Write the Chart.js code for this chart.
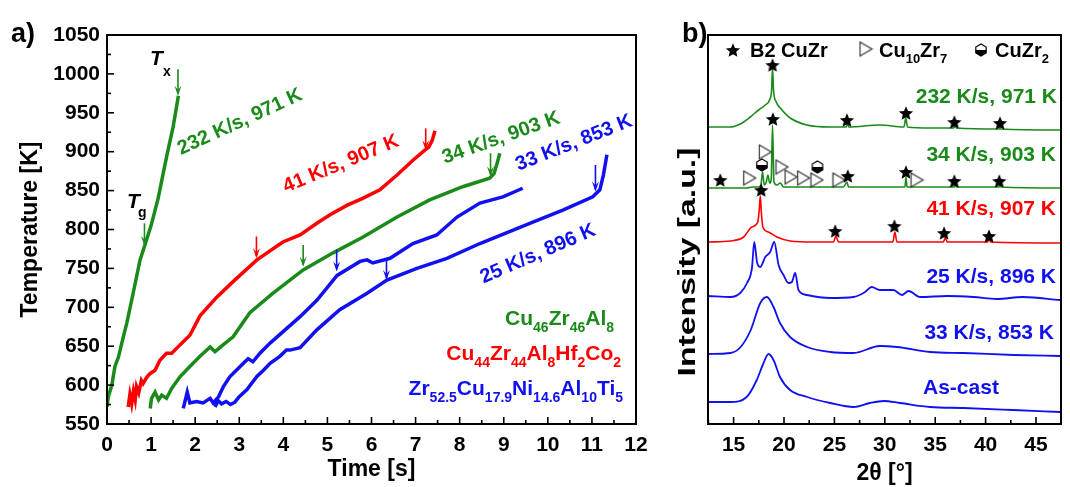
<!DOCTYPE html>
<html><head><meta charset="utf-8">
<script src="https://cdn.jsdelivr.net/npm/chart.js@4.4.0/dist/chart.umd.min.js"></script>
<style>
html,body{margin:0;padding:0;background:#fff;}
#wrap{position:relative;width:1070px;height:487px;overflow:hidden;background:#fff;}
#ca{position:absolute;left:0;top:0;}
#cb{position:absolute;left:660px;top:0;}
</style></head><body>
<div id="wrap"><canvas id="ca" width="660" height="487"></canvas><canvas id="cb" width="410" height="487"></canvas></div>
<script>
// ---------- Panel a data: time [s] vs temperature [K] ----------
const timeTicks = [0,1,2,3,4,5,6,7,8,9,10,11,12];
const tempTicks = [550,600,650,700,750,800,850,900,950,1000,1050];

const t232 = [0,0.03,0.11,0.18,0.26,0.37,0.45,0.6,0.75,0.86,1.0,1.16,1.35,1.5,1.62];
const T232 = [572,585,600,624,636,662,680,720,761,780,805,840,893,932,972];

const t41 = [0.48,0.52,0.56,0.6,0.64,0.67,0.72,0.78,0.82,0.9,0.98,1.09,1.2,1.35,1.47,1.66,1.88,2.11,2.49,2.86,3.4,3.99,4.38,4.76,5.06,5.44,5.8,6.19,6.58,6.94,7.21,7.3,7.38,7.44];
const T41 = [572,588,576,592,581,598,590,606,602,610,615,619,632,641,641,652,664,689,713,733,761,784,793,808,819,831,840,851,870,889,902,906,915,927];

const t34 = [0.98,1.01,1.09,1.17,1.24,1.35,1.47,1.66,1.88,2.11,2.34,2.45,2.64,2.86,3.24,3.76,4.45,5.13,5.8,6.58,7.32,8.07,8.68,8.78,8.85,8.91];
const T34 = [570,583,591,581,587,583,596,611,624,637,649,643,652,662,693,718,748,770,790,816,838,855,866,872,885,898];

const t33 = [1.73,1.82,1.88,2.03,2.18,2.34,2.41,2.53,2.64,2.79,3.02,3.2,3.31,3.47,3.7,4.38,4.76,5.22,5.74,5.9,6.03,6.42,6.94,7.48,7.94,8.46,8.98,9.43];
const T33 = [570,591,577,579,577,583,577,585,598,611,624,634,630,641,654,688,709,741,759,761,757,763,782,793,816,834,842,853];

const t25 = [2.45,2.52,2.6,2.7,2.8,2.9,3.0,3.17,3.4,3.55,3.7,3.92,4.07,4.15,4.38,4.76,5.28,5.9,6.35,7.03,7.71,8.46,9.59,10.34,11.02,11.18,11.26,11.34];
const T25 = [572,580,576,579,575,578,585,594,611,619,628,637,645,645,648,671,697,718,735,750,763,782,808,825,842,851,870,896];

// arrows marking Tg / Tx : time, start temperature, tip temperature
const arrowT = [1.61,0.85,3.39,4.45,5.21,6.34,7.23,8.70,11.08];
const arrowFrom = [1006,808,791,780,774,761,930,898,883];
const arrowTo = [972,779,763,752,746,735,902,868,849];
const arrowCol = ['g','g','r','g','b','b','r','g','b'];

// ---------- Panel b data: 2theta [deg] vs intensity [a.u.] ----------
const twoThetaTicks = [15,20,25,30,35,40,45];

const xAsCast = [12.5,14.7,16.3,17.3,17.97,18.46,18.96,19.6,20.6,22.3,24.6,26.9,28.5,29.9,31.5,34.5,37.8,42.75,47.4];
const yAsCast = [22,22,27,44,61,70,64,47,34,27,21,17,21,23,21,17,16,14,12];

const x33 = [12.5,14.7,15.7,16.7,17.65,18.3,18.96,19.6,20.6,22.3,24.6,26.9,29.5,31.2,34.5,37.8,42.75,47.4];
const y33 = [70,71,77,94,121,127,117,101,87,77,72,71,78,77,72,71,69,68];

const x25 = [12.5,14.7,15.66,16.33,16.82,17.05,17.32,17.64,18.14,18.63,19.03,19.46,19.95,20.45,20.78,21.11,21.44,22.27,24.6,26.9,28.05,28.7,29.5,30.85,31.7,32.35,33.5,36.2,38.8,41.1,43.7,47.4];
const y25 = [128,127,131,141,156,182,162,157,167,172,182,159,149,141,142,151,134,129,126,127,132,137,134,134,129,133,127,128,127,125,127,124];

const x41 = [12.5,14.7,16.0,16.8,17.4,17.55,17.65,17.75,17.9,18.46,19.3,20.6,22.9,24.9,25.15,25.4,28.2,30.8,31.0,31.2,35.8,36.0,36.2,40.2,40.35,40.5,47.4];
const y41 = [182,183,187,197,202,215,228,212,197,192,187,183,182,182,188,182,182,182,192,182,182,186,182,182,185,182,181];

const x34 = [12.5,16.33,16.82,17.48,17.71,17.87,18.04,18.24,18.41,18.57,18.73,18.86,19.0,19.3,19.63,19.95,21.94,25.9,26.24,26.4,32.0,32.1,32.2,36.9,37.0,37.1,41.35,41.43,41.5,47.4];
const y34 = [236,236,237,237,239,252,239,242,249,241,244,299,242,239,241,237,237,237,242,237,237,247,237,237,240,237,237,240,237,236];

const x232 = [12.5,14.67,15.66,16.65,17.48,18.14,18.57,18.77,18.86,18.96,19.23,19.63,20.62,22.27,24.58,26.17,26.3,26.43,29.54,31.9,32.08,32.25,34.5,36.85,36.97,37.1,41.35,41.43,41.5,47.4];
const y232 = [297,297,300,307,314,319,324,334,356,334,322,316,306,299,297,297,301,297,299,297,306,297,296,296,299,296,295,297,295,294];

// phase markers
const starX = [18.86,26.24,32.1,36.9,41.43, 13.68,18.9,26.33,32.1,36.9,41.36, 17.74,25.08,30.95,35.88,40.34];
const starY = [359,304,311,302,301, 244,305,248,252,243,243, 234,193,198,191,188];
const triX = [16.6,18.14,19.8,20.7,21.95,23.27,25.45,33.2];
const triY = [246,272,257,247,246,244,244,244];
const cuzr2X = [17.81,23.32];
const cuzr2Y = [259,257];

// ---------- styling ----------
const FONT = "'Liberation Sans', Arial, Helvetica, sans-serif";
const GREEN = '#1a8a1a', RED = '#ff0000', BLUE = '#1010f0';
const COL = {g:GREEN, r:RED, b:BLUE};
const pts = (xs, ys) => xs.map((v,i)=>({x:v, y:ys[i]}));

function makeStar(size){
  const c=document.createElement('canvas'); c.width=size; c.height=size;
  const g=c.getContext('2d'); g.fillStyle='#000'; g.beginPath();
  const R=size/2-0.5, r=R*0.45, cx=size/2, cy=size/2+0.8;
  for(let i=0;i<10;i++){const a=-Math.PI/2+i*Math.PI/5; const rr=i%2?r:R; g.lineTo(cx+rr*Math.cos(a), cy+rr*Math.sin(a));}
  g.closePath(); g.fill(); return c;
}
function makeTri(w,h){
  const c=document.createElement('canvas'); c.width=w+3; c.height=h+3;
  const g=c.getContext('2d'); g.beginPath(); g.moveTo(1.5,1.5); g.lineTo(w+1.5,h/2+1.5); g.lineTo(1.5,h+1.5); g.closePath();
  g.fillStyle='#fff'; g.fill(); g.strokeStyle='#333'; g.lineWidth=1.2; g.stroke(); return c;
}
function makeHalf(size){
  const c=document.createElement('canvas'); c.width=size+2; c.height=size+2;
  const g=c.getContext('2d'); const cx=(size+2)/2, cy=(size+2)/2, r=size/2;
  const hex=()=>{g.beginPath(); for(let i=0;i<6;i++){const a=-Math.PI/2+i*Math.PI/3; g.lineTo(cx+r*Math.cos(a), cy+r*Math.sin(a));} g.closePath();};
  hex(); g.fillStyle='#fff'; g.fill();
  g.save(); hex(); g.clip(); g.fillStyle='#000'; g.fillRect(0,cy,size+2,size); g.restore();
  hex(); g.strokeStyle='#000'; g.lineWidth=1.2; g.stroke(); return c;
}
const STAR = makeStar(16), TRI = makeTri(12,14), HALF = makeHalf(12);

function richWidth(ctx, segs, main, sub){ let w=0; segs.forEach(([t,s])=>{ctx.font=s?sub:main; w+=ctx.measureText(t).width;}); return w; }
function drawRich(ctx, segs, x, y, main, sub, color, subOff, align){
  let cx = align==='right' ? x - richWidth(ctx,segs,main,sub) : x;
  ctx.fillStyle=color; ctx.textBaseline='alphabetic'; ctx.textAlign='left';
  segs.forEach(([t,s])=>{ctx.font=s?sub:main; ctx.fillText(t,cx,y+(s?subOff:0)); cx+=ctx.measureText(t).width;});
}
function frameAndTicks(chart, xMaj, yMaj, doY){
  const ctx=chart.ctx, a=chart.chartArea, sx=chart.scales.x, sy=chart.scales.y;
  ctx.save(); ctx.strokeStyle='#000'; ctx.lineWidth=1.6;
  const minors = arr => arr.slice(0,-1).map((v,i)=>(v+arr[i+1])/2);
  const xd=(v,len)=>{const p=sx.getPixelForValue(v); ctx.beginPath(); ctx.moveTo(p,a.bottom); ctx.lineTo(p,a.bottom-len); ctx.stroke();};
  xMaj.forEach(v=>xd(v,7)); minors(xMaj).forEach(v=>xd(v,4));
  const extra = [xMaj[0]-(xMaj[1]-xMaj[0])/2, xMaj[xMaj.length-1]+(xMaj[1]-xMaj[0])/2];
  extra.forEach(v=>{ if(v>sx.min && v<sx.max) xd(v,4); });
  if(doY){
    const yd=(v,len)=>{const p=sy.getPixelForValue(v); ctx.beginPath(); ctx.moveTo(a.left,p); ctx.lineTo(a.left+len,p); ctx.stroke();};
    yMaj.forEach(v=>yd(v,7)); minors(yMaj).forEach(v=>yd(v,4));
  }
  ctx.lineWidth=2; ctx.strokeRect(a.left,a.top,a.right-a.left,a.bottom-a.top);
  ctx.restore();
}
function rotText(ctx, txt, x, y, deg, font, color){
  ctx.save(); ctx.translate(x,y); ctx.rotate(-deg*Math.PI/180);
  ctx.font=font; ctx.fillStyle=color; ctx.textAlign='center'; ctx.textBaseline='middle';
  ctx.fillText(txt,0,0); ctx.restore();
}

const tickFont = {family:FONT, size:21, weight:'bold'};
const titleFont = {family:FONT, size:23, weight:'bold'};

// ---------- Panel a ----------
const panelA = {
  id:'panelA',
  afterDatasetsDraw(chart){
    const ctx=chart.ctx, sx=chart.scales.x, sy=chart.scales.y;
    frameAndTicks(chart, timeTicks, tempTicks, true);
    ctx.save(); ctx.lineWidth=1.6;
    arrowT.forEach((t,i)=>{
      const x=sx.getPixelForValue(t), y0=sy.getPixelForValue(arrowFrom[i]), y1=sy.getPixelForValue(arrowTo[i]);
      ctx.strokeStyle=COL[arrowCol[i]]; ctx.fillStyle=COL[arrowCol[i]];
      ctx.beginPath(); ctx.moveTo(x,y0); ctx.lineTo(x,y1-2); ctx.stroke();
      ctx.beginPath(); ctx.moveTo(x-3.5,y1-10); ctx.lineTo(x,y1); ctx.lineTo(x+3.5,y1-10); ctx.lineTo(x,y1-6); ctx.closePath(); ctx.fill();
    });
    ctx.restore();
    const f20 = `bold 20px ${FONT}`;
    rotText(ctx,'232 K/s, 971 K',240,122,24.5,f20,GREEN);
    rotText(ctx,'41 K/s, 907 K',341,164,22.5,f20,RED);
    rotText(ctx,'34 K/s, 903 K',501,138,19.5,f20,GREEN);
    rotText(ctx,'33 K/s, 853 K',574,143,21.5,f20,BLUE);
    rotText(ctx,'25 K/s, 896 K',538,254,23.4,f20,BLUE);
    ctx.save(); ctx.fillStyle='#000'; ctx.textBaseline='alphabetic'; ctx.textAlign='left';
    ctx.font=`italic bold 21px ${FONT}`; ctx.fillText('T',150,65); ctx.fillText('T',127,208);
    ctx.font=`bold 14px ${FONT}`; ctx.fillText('x',163,76); ctx.fillText('g',138,217);
    ctx.restore();
    const m=`bold 21px ${FONT}`, s=`bold 14px ${FONT}`;
    drawRich(ctx,[['Cu',0],['46',1],['Zr',0],['46',1],['Al',0],['8',1]],614,325,m,s,GREEN,7,'right');
    drawRich(ctx,[['Cu',0],['44',1],['Zr',0],['44',1],['Al',0],['8',1],['Hf',0],['2',1],['Co',0],['2',1]],621,360,m,s,RED,7,'right');
    drawRich(ctx,[['Zr',0],['52.5',1],['Cu',0],['17.9',1],['Ni',0],['14.6',1],['Al',0],['10',1],['Ti',0],['5',1]],623,395,m,s,BLUE,7,'right');
    ctx.save(); ctx.font=`bold 27px ${FONT}`; ctx.fillStyle='#000'; ctx.textAlign='left'; ctx.textBaseline='alphabetic';
    ctx.fillText('a)',11,42); ctx.restore();
  }
};

const lineDs = (xs,ys,c,w)=>({data:pts(xs,ys), borderColor:c, backgroundColor:c, borderWidth:w, pointRadius:0, fill:false, tension:0, order:1});
const curveDs = (xs,ys,c,w)=>Object.assign(lineDs(xs,ys,c,w), {cubicInterpolationMode:'monotone'});

new Chart(document.getElementById('ca'), {
  type:'line',
  data:{datasets:[
    lineDs(t232,T232,GREEN,3.5), lineDs(t41,T41,RED,3.5), lineDs(t34,T34,GREEN,3.5),
    lineDs(t33,T33,BLUE,3.5), lineDs(t25,T25,BLUE,3.5)
  ]},
  options:{
    responsive:false, animation:false, devicePixelRatio:1,
    layout:{padding:{left:0,top:35,right:24,bottom:0}},
    plugins:{legend:{display:false}, tooltip:{enabled:false}},
    scales:{
      x:{type:'linear', min:0, max:12,
        afterBuildTicks:s=>{s.ticks=timeTicks.map(v=>({value:v}));},
        afterFit:s=>{s.height=63;},
        grid:{display:false, drawTicks:false}, border:{display:false},
        ticks:{font:tickFont, color:'#000', padding:9, maxRotation:0, autoSkip:false, callback:v=>String(v)},
        title:{display:true, text:'Time [s]', font:titleFont, color:'#000', padding:{top:0,bottom:4}}},
      y:{type:'linear', min:550, max:1050,
        afterBuildTicks:s=>{s.ticks=tempTicks.map(v=>({value:v}));},
        afterFit:s=>{s.width=107;},
        grid:{display:false, drawTicks:false}, border:{display:false},
        ticks:{font:tickFont, color:'#000', padding:7, autoSkip:false, callback:v=>String(v)},
        title:{display:true, text:'Temperature [K]', font:titleFont, color:'#000', padding:{top:17,bottom:0}}}
    }
  },
  plugins:[panelA]
});

// ---------- Panel b ----------
const panelB = {
  id:'panelB',
  afterDatasetsDraw(chart){
    const ctx=chart.ctx;
    frameAndTicks(chart, twoThetaTicks, [], false);
    const f=`bold 21px ${FONT}`;
    ctx.save(); ctx.font=f; ctx.textBaseline='middle'; ctx.textAlign='right';
    ctx.fillStyle=GREEN; ctx.fillText('232 K/s, 971 K',397,97); ctx.fillText('34 K/s, 903 K',396,155);
    ctx.fillStyle=RED; ctx.fillText('41 K/s, 907 K',396,209);
    ctx.fillStyle=BLUE; ctx.fillText('25 K/s, 896 K',396,277); ctx.fillText('33 K/s, 853 K',394,333);
    ctx.textAlign='left'; ctx.fillText('As-cast',263,388);
    ctx.restore();
    // y-axis title (stretched to reference length)
    ctx.save(); ctx.translate(28,262); ctx.rotate(-Math.PI/2);
    ctx.font=`bold 24px ${FONT}`; const w=ctx.measureText('Intensity [a.u.]').width;
    ctx.scale(229/w,1); ctx.fillStyle='#000'; ctx.textAlign='center'; ctx.textBaseline='middle';
    ctx.fillText('Intensity [a.u.]',0,0); ctx.restore();
    // legend
    ctx.drawImage(STAR,73-STAR.width/2,50-STAR.height/2);
    ctx.drawImage(TRI,206-TRI.width/2,49-TRI.height/2);
    ctx.drawImage(HALF,321-HALF.width/2,50-HALF.height/2);
    const m=`bold 20px ${FONT}`, s=`bold 13px ${FONT}`;
    drawRich(ctx,[['B2 CuZr',0]],90,57,m,s,'#000',6,'left');
    drawRich(ctx,[['Cu',0],['10',1],['Zr',0],['7',1]],219,57,m,s,'#000',6,'left');
    drawRich(ctx,[['CuZr',0],['2',1]],335,57,m,s,'#000',6,'left');
    ctx.save(); ctx.font=`bold 27px ${FONT}`; ctx.fillStyle='#000'; ctx.textAlign='left'; ctx.textBaseline='alphabetic';
    ctx.fillText('b)',22,42); ctx.restore();
  }
};

const mk = (xs,ys,img)=>({type:'scatter', data:pts(xs,ys), pointStyle:img, pointRadius:6, showLine:false, order:0});

new Chart(document.getElementById('cb'), {
  type:'line',
  data:{datasets:[
    mk(starX,starY,STAR), mk(triX,triY,TRI), mk(cuzr2X,cuzr2Y,HALF),
    curveDs(xAsCast,yAsCast,BLUE,1.8), curveDs(x33,y33,BLUE,1.8), curveDs(x25,y25,BLUE,1.8),
    curveDs(x41,y41,RED,1.6), curveDs(x34,y34,GREEN,1.6), curveDs(x232,y232,GREEN,1.6)
  ]},
  options:{
    responsive:false, animation:false, devicePixelRatio:1,
    layout:{padding:{left:0,top:35,right:9,bottom:0}},
    plugins:{legend:{display:false}, tooltip:{enabled:false}},
    scales:{
      x:{type:'linear', min:12.46, max:47.48,
        afterBuildTicks:s=>{s.ticks=twoThetaTicks.map(v=>({value:v}));},
        afterFit:s=>{s.height=63;},
        grid:{display:false, drawTicks:false}, border:{display:false},
        ticks:{font:tickFont, color:'#000', padding:9, maxRotation:0, autoSkip:false, callback:v=>String(v)},
        title:{display:true, text:'2θ [°]', font:titleFont, color:'#000', padding:{top:0,bottom:0}}},
      y:{type:'linear', min:0, max:389,
        afterFit:s=>{s.width=48;},
        grid:{display:false, drawTicks:false}, border:{display:false},
        ticks:{display:false},
        title:{display:false}}
    }
  },
  plugins:[panelB]
});
</script>
</body></html>
